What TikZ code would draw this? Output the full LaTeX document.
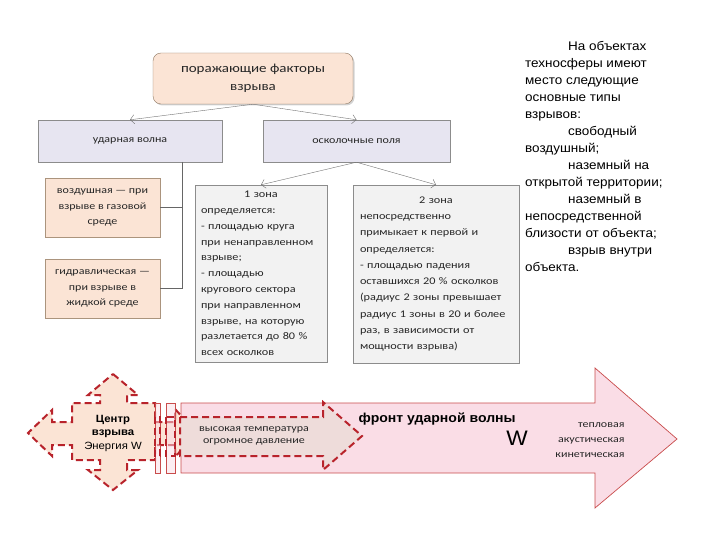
\documentclass[tikz,border=0pt]{standalone}
\usepackage{fontspec}
\setmainfont{Carlito}[FakeStretch=1.2]
\newfontfamily\sidefont{Liberation Sans}[FakeStretch=1.08]
\usetikzlibrary{arrows.meta,shadows}
\definecolor{peach}{HTML}{FBE4D5}
\definecolor{lav}{HTML}{E7E5F1}
\definecolor{zonegray}{HTML}{F2F2F2}
\definecolor{wavepink}{HTML}{FADDE6}
\definecolor{hotgray}{HTML}{EEDCDA}
\definecolor{dashred}{HTML}{B8232B}

\begin{document}
\begin{tikzpicture}[x=1pt,y=-1pt,
  lavbox/.style={draw=black!45,fill=lav,minimum height=42pt,text=black!85,font=\fontsize{10}{12}\selectfont},
  peachbox/.style={draw=brown!60!black!60,fill=peach,minimum width=115pt,minimum height=59pt,
    align=center,text=black!85,font=\fontsize{10}{15.5}\selectfont},
  zonebox/.style={draw=black!45,fill=zonegray,align=left,inner sep=0pt,text=black!85,
    font=\fontsize{10.2}{15.8}\selectfont},
  link/.style={draw=black!55,thin,-{Straight Barb[length=4pt,width=9pt]}},
  shock/.style={draw=red!70!black!70,fill=wavepink,line width=.7pt},
  hotline/.style={draw=dashred,line width=2pt,dash pattern=on 7pt off 4pt,line join=miter}]
\useasboundingbox (0,0) rectangle (720,540);

% tree of the damaging factors
\node[draw=brown!50!black!70,fill=peach,rounded corners=8pt,minimum width=200pt,minimum height=51pt,
  align=center,text=black!85,font=\fontsize{12.5}{18}\selectfont,
  drop shadow={opacity=.35,shadow xshift=1.5pt,shadow yshift=-1.5pt}] (top) at (253,78.5)
  {поражающие факторы\\взрыва};
\node[lavbox,minimum width=184pt] (wave) at (130,141) {ударная волна};
\node[lavbox,minimum width=187pt] (frag) at (356.5,141) {осколочные поля};
\draw[link] (top.south) -- (wave.north);
\draw[link] (top.south) -- (frag.north);

\node[peachbox] (air) at (102.5,207.5) {воздушная — при\\взрыве в газовой\\среде};
\node[peachbox] (hydro) at (102.5,288.5) {гидравлическая —\\при взрыве в\\жидкой среде};
\coordinate (trunk) at (182,162);
\draw[black!60] (trunk) |- (hydro.east);
\draw[black!60] (air.east) -- (air.east -| trunk);

\node[zonebox,minimum width=132pt,minimum height=177pt,text width=120pt] (zone1) at (261,273.5)
  {\makebox[\linewidth]{1 зона}\\ определяется:\\ - площадью круга\\ при ненаправленном\\ взрыве;\\
   - площадью\\ кругового сектора\\ при направленном\\ взрыве, на которую\\ разлетается до 80~\%\\ всех осколков};
\node[zonebox,minimum width=166pt,minimum height=178pt,text width=152pt,font=\fontsize{10.2}{16.3}\selectfont]
  (zone2) at (436,274)
  {\makebox[\linewidth]{2 зона}\\ непосредственно\\ примыкает к первой и\\ определяется:\\ - площадью падения\\
   оставшихся 20 \% осколков\\ (радиус 2 зоны превышает\\ радиус 1 зоны в 20 и более\\
   раз, в зависимости от\\ мощности взрыва)};
\draw[link] (frag.south) -- (zone1.north);
\draw[link] (frag.south) -- (zone2.north);

% side text
\node[anchor=north west,inner sep=0pt,align=left,font=\sidefont\fontsize{12.5}{17}\selectfont] (types) at (525,41)
  {\hspace*{43pt}На объектах\\ техносферы имеют\\ место следующие\\ основные типы\\ взрывов:\\
   \hspace*{43pt}свободный\\ воздушный;\\ \hspace*{43pt}наземный на\\ открытой территории;\\
   \hspace*{43pt}наземный в\\ непосредственной\\ близости от объекта;\\ \hspace*{43pt}взрыв внутри\\ объекта.};

% shock wave arrow
\draw[shock] (181,403) -- (595,403) -- (595,368) -- (677,439) -- (595,508) -- (595,473) -- (181,473) -- cycle;

% centre of the explosion
\draw[hotline,fill=peach] (113,374) -- (138,395) -- (127,395) -- (127,403) -- (155,403) -- (155,422)
  -- (175,422) -- (175,409) -- (197,433) -- (175,457) -- (175,445) -- (155,445) -- (155,460)
  -- (127,460) -- (127,470) -- (138,470) -- (113,490) -- (88,470) -- (100,470) -- (100,460)
  -- (72,460) -- (72,445) -- (52,445) -- (52,456) -- (28,433) -- (52,410) -- (52,422) -- (72,422)
  -- (72,403) -- (100,403) -- (100,395) -- (88,395) -- cycle;
\draw[shock,fill opacity=.5] (155,403) rectangle (160,473);
\draw[shock,fill opacity=.5] (166,403) rectangle (175,473);

% hot zone arrow
\draw[hotline] (155,417) rectangle (160,456);
\draw[hotline] (166,417) rectangle (175,456);
\draw[hotline,fill=hotgray] (180,417) -- (323,417) -- (323,402) -- (362,436) -- (323,470) -- (323,456)
  -- (180,456) -- cycle;

\node[align=center,font=\sidefont\fontsize{10.5}{13.5}\selectfont] (centre) at (113,433)
  {\textbf{Центр}\\ \textbf{взрыва}\\ Энергия W};
\node[align=center,text=black!85,font=\fontsize{10}{12.5}\selectfont] (hot) at (254,436)
  {высокая температура\\ огромное давление};
\node[anchor=west,font=\sidefont\bfseries\fontsize{13}{15}\selectfont] (front) at (355,419) {фронт ударной волны};
\node[font=\sidefont\fontsize{21}{21}\selectfont] (energy) at (517,438) {W};
\node[anchor=east,align=right,text=black!85,font=\fontsize{10}{15}\selectfont] (forms) at (628,440)
  {тепловая\\ акустическая\\ кинетическая};
\end{tikzpicture}
\end{document}
